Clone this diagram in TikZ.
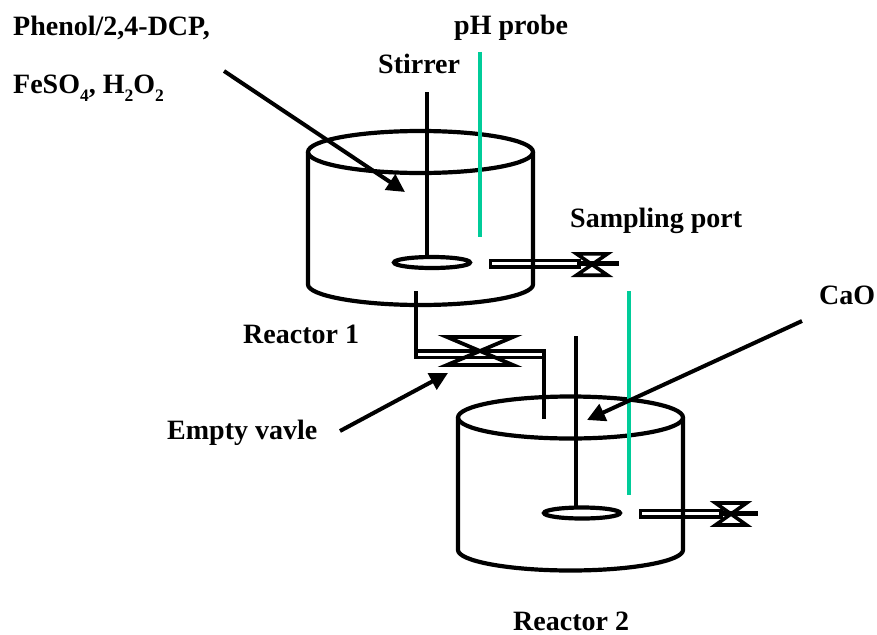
\documentclass[tikz,border=0pt]{standalone}
\usepackage{fontspec}
\setmainfont{Liberation Serif}
\usetikzlibrary{arrows.meta}
\definecolor{probe}{RGB}{0,204,153}
\tikzset{
  wall/.style={line width=4.2pt},
  probeline/.style={line width=4pt,color=probe},
  tube/.style={line width=3.8pt},
  pointer/.style={line width=4pt,-{Triangle[length=18pt,width=18pt]}},
  lab/.style={font=\fontsize{28}{32}\selectfont\bfseries,inner sep=0pt,anchor=base west}
}
\newcommand{\lowsub}[1]{\raisebox{-8.5pt}{\fontsize{17.5}{20}\selectfont #1}}
\newcommand{\bowtievalve}[5]{% cx cy halfw halfh lw
  \draw[line width=#5pt,line join=miter] (#1-#3,#2-#4) -- (#1+#3,#2-#4) -- (#1-#3,#2+#4) -- (#1+#3,#2+#4) -- cycle;
}
\newcommand{\vessel}[5]{% cx cytop rx ry; #5 = y where bottom curve starts
  \draw[wall] (#1,#2) ellipse ({#3} and {#4});
  \draw[wall] (#1-#3,#2) -- (#1-#3,#5) .. controls (#1-#3,#5+11) and (#1-#3*0.55,#5+20.5) .. (#1,#5+20.5)
     .. controls (#1+#3*0.55,#5+20.5) and (#1+#3,#5+11) .. (#1+#3,#5) -- (#1+#3,#2);
}
\begin{document}
\begin{tikzpicture}[x=1pt,y=-1pt]
\useasboundingbox (0,0) rectangle (877,634);
% reactors
\vessel{420.5}{152}{112.5}{21}{284.5}
\vessel{570.5}{417.5}{112.5}{21}{550}
% stirrers
\draw[wall] (427,92) -- (427,257);
\draw[wall] (432,262.5) ellipse (38 and 5.5);
\draw[wall] (576,336) -- (576,508);
\draw[wall] (582,513) ellipse (38 and 5.5);
% probes
\draw[probeline] (480,52) -- (480,237);
\draw[probeline] (629,291) -- (629,495);
% sampling port 1
\draw[tube] (490.5,260.5) rectangle (579,267);
\draw[wall] (579,263.5) -- (619,263.5);
\bowtievalve{592}{264.5}{15.5}{10.7}{3.6}
% sampling port 2
\draw[tube] (640.5,510.5) rectangle (721,517);
\draw[wall] (721,513.5) -- (758,513.5);
\bowtievalve{731}{514}{15.5}{11}{3.6}
% connecting pipe
\draw[tube,line join=miter] (416,291) -- (416,357.5) -- (541.5,357.5);
\draw[tube,line join=miter] (416,351) -- (544,351) -- (544,419);
\bowtievalve{480}{351}{33}{14}{3.8}
% labels
\node[lab] (phenol) at (13,36) {Phenol/2,4-DCP,};
\node[lab] (feso) at (13,93) {FeSO\lowsub{4}, H\lowsub{2}O\lowsub{2}};
\node[lab] (stirrer) at (378,74) {Stirrer};
\node[lab] (ph) at (454,35) {pH probe};
\node[lab] (sampling) at (570,227) {Sampling port};
\node[lab] (cao) at (819,304) {CaO};
\node[lab] (r1) at (243,343) {Reactor 1};
\node[lab] (valve) at (167,439) {Empty vavle};
\node[lab] (r2) at (513,630) {Reactor 2};
% pointers
\coordinate (a1s) at (224,71); \coordinate (a1e) at (405,192);
\coordinate (a2s) at (340,431); \coordinate (a2e) at (448,373);
\coordinate (a3s) at (802,321); \coordinate (a3e) at (587,420);
\draw[pointer] (a1s) -- (a1e);
\draw[pointer] (a2s) -- (a2e);
\draw[pointer] (a3s) -- (a3e);
\end{tikzpicture}
\end{document}
